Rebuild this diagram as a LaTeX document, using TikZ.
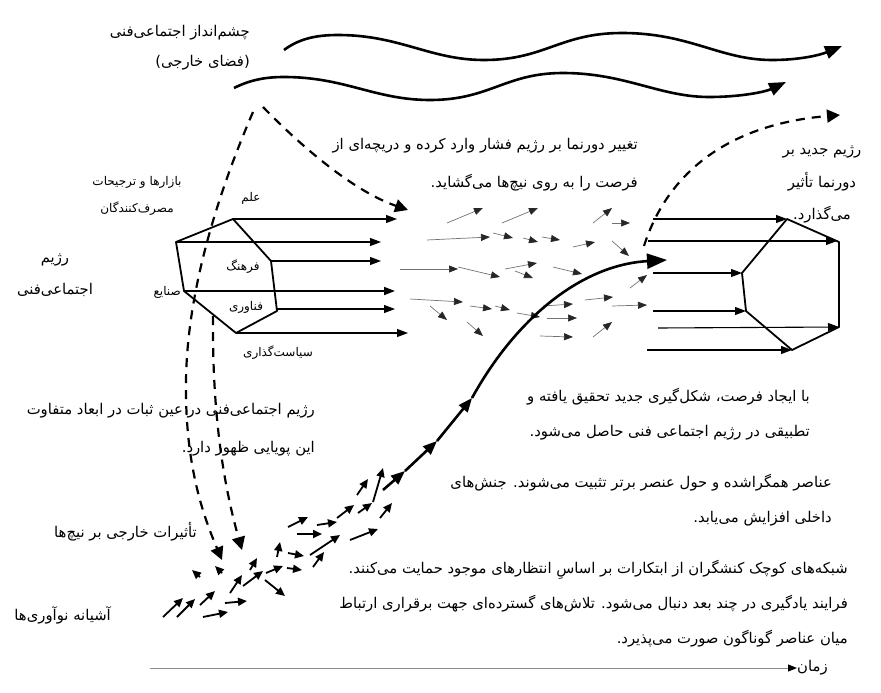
\documentclass[tikz,border=0pt]{standalone}
\usepackage{fontspec}
\usetikzlibrary{arrows.meta}
\newfontfamily\farsi[Script=Arabic]{DejaVu Sans}
\TeXXeTstate=1
\newcommand{\fa}[1]{\beginR #1\endR}
\tikzset{
  txt/.style={font=\farsi\fontsize{14.8}{35}\selectfont, inner sep=0pt, align=right},
  smalltxt/.style={font=\farsi\fontsize{12}{27}\selectfont, inner sep=0pt, align=center},
  wave/.style={line width=2.6pt, -{Triangle[length=17pt,width=13pt]}},
  dasharc/.style={line width=2.2pt, dash pattern=on 9pt off 7pt},
  dashtip/.style={-{Triangle[length=13pt,width=13pt]}},
  hexline/.style={line width=1.8pt, line join=round},
  regarrow/.style={line width=1.1pt, -{Triangle[length=11pt,width=8pt]}},
  flowarrow/.style={line width=0.7pt, black!55, -{Triangle[length=9pt,width=7pt,color=black!85]}},
  nichearrow/.style={line width=1.8pt, -{Triangle[length=9pt,width=8pt]}},
  mainarc/.style={line width=2.6pt, -{Triangle[length=14pt,width=11pt]}},
}

\begin{document}
\begin{tikzpicture}[x=1pt,y=-1pt]
\useasboundingbox (0,0) rectangle (881,693);

% landscape
\coordinate (w1a) at (284,50);
\coordinate (w1b) at (842,46);
\coordinate (w2a) at (234,88);
\coordinate (w2b) at (786,82);
\draw[wave] (w1a) .. controls (300,38) and (318,35) .. (338,35)
  .. controls (400,35) and (430,60) .. (484,60)
  .. controls (545,60) and (560,33) .. (622,33)
  .. controls (690,33) and (720,60) .. (772,60)
  .. controls (800,60) and (820,55) .. (w1b);
\draw[wave] (w2a) .. controls (250,80) and (265,77) .. (284,77)
  .. controls (345,77) and (375,100) .. (430,100)
  .. controls (490,100) and (505,73) .. (563,73)
  .. controls (625,73) and (660,97) .. (709,97)
  .. controls (740,97) and (765,92) .. (w2b);
\node[txt, anchor=north east] (land) at (250,25)
  {\fa{چشم^^^^200cانداز اجتماعی^^^^200cفنی}\\[-5pt]\fa{(فضای خارجی)}};

% regime
\coordinate (r1) at (233,219);
\coordinate (r2) at (176,242);
\coordinate (r3) at (184,291);
\coordinate (r4) at (236,333);
\coordinate (r5) at (277,311);
\coordinate (r6) at (271,261);
\draw[hexline] (r1) -- (r2) -- (r3) -- (r4) -- (r5) -- (r6) -- cycle;
\draw[regarrow] (r1) -- (397,219);
\draw[regarrow] (r2) -- (381,242);
\draw[regarrow] (r6) -- (381,261);
\draw[regarrow, line width=1.6pt] (r3) -- (395,291);
\draw[regarrow] (277,309) -- (395,309);
\draw[regarrow] (r4) -- (408,333);

\node[smalltxt] (market) at (137,196) {\fa{بازارها و ترجیحات}\\\fa{مصرف^^^^200cکنندگان}};
\node[smalltxt] (sci) at (251,198) {\fa{علم}};
\node[smalltxt] (cult) at (243,267) {\fa{فرهنگ}};
\node[smalltxt, anchor=east] (ind) at (181,292) {\fa{صنایع}};
\node[smalltxt] (tech) at (246,307) {\fa{فناوری}};
\node[smalltxt] (pol) at (278,353) {\fa{سیاست^^^^200cگذاری}};
\node[txt, align=center, font=\farsi\fontsize{14.8}{32}\selectfont] (reg) at (55,275)
  {\fa{رژیم}\\\fa{اجتماعی^^^^200cفنی}};

% dashed influences
\coordinate (d1) at (263,107);
\coordinate (d1e) at (408,210);
\coordinate (d2) at (253,112);
\coordinate (d2e) at (222,560);
\coordinate (d3) at (213,316);
\coordinate (d3e) at (242,550);
\coordinate (d4) at (644,246);
\coordinate (d4e) at (840,115);
\draw[dasharc, dashtip] (d1) .. controls (295,140) and (350,190) .. (d1e);
\draw[dasharc, dashtip] (d2) .. controls (215,200) and (185,300) .. (186,390)
  .. controls (186,470) and (205,520) .. (d2e);
\draw[dasharc, dashtip] (d3) .. controls (212,420) and (225,490) .. (d3e);
\draw[dasharc, dashtip] (d4) .. controls (665,180) and (720,125) .. (d4e);

% window of opportunity
\foreach \xa/\ya/\xb/\yb in {447/223/483/208, 502/223/538/208, 427/240/490/237,
  493/233/513/238, 523/238/538/242, 542/237/560/240, 573/247/595/242,
  593/223/612/208, 612/223/630/223, 612/241/629/256, 400/269/458/269,
  458/267/500/277, 505/269/537/263, 515/271/533/278, 553/267/582/274,
  410/299/463/302, 430/306/447/320, 470/306/492/309, 495/306/510/310,
  517/313/540/317, 467/322/483/336, 543/306/573/304, 547/318/577/318,
  585/300/613/297, 593/337/612/322, 540/336/573/337, 612/306/647/305,
  630/288/647/275}
  \draw[flowarrow] (\xa,\ya) -- (\xb,\yb);

% niches
\foreach \xa/\ya/\xb/\yb in {163/617/183/598, 177/617/195/599, 203/617/228/612,
  200/605/215/591, 225/603/247/601, 230/593/242/575, 200/577/192/570,
  222/573/215/566, 243/586/263/571, 250/570/257/558, 265/580/285/596,
  266/573/283/566, 277/557/280/542, 288/553/304/556, 287/568/302/570,
  313/567/324/552, 310/555/340/535, 288/527/308/517, 297/534/322/534,
  317/525/337/522, 337/518/354/505, 350/540/378/529, 358/513/372/503,
  357/495/368/479, 373/502/383/468, 380/518/392/503}
  \draw[nichearrow] (\xa,\ya) -- (\xb,\yb);

% breakthrough
\coordinate (m0) at (383,490);
\coordinate (m1) at (405,471);
\coordinate (m2) at (437,441);
\coordinate (m3) at (472,398);
\coordinate (m4) at (667,260);
\draw[mainarc] (m0) -- (m1);
\draw[mainarc] (m1) -- (m2);
\draw[mainarc] (m2) -- (m3);
\draw[mainarc, -{Triangle[length=20pt,width=15pt]}] (m3) .. controls (515,320) and (580,265) .. (m4);

% new regime
\coordinate (n1) at (787,219);
\coordinate (n2) at (839,242);
\coordinate (n3) at (839,327);
\coordinate (n4) at (792,350);
\coordinate (n5) at (746,311);
\coordinate (n6) at (742,273);
\draw[hexline] (n1) -- (n2) -- (n3) -- (n4) -- (n5) -- (n6) -- cycle;
\draw[regarrow] (653,219) -- (n1);
\draw[regarrow] (648,241) -- (837,241);
\draw[regarrow] (653,273) -- (n6);
\draw[regarrow] (653,311) -- (n5);
\draw[regarrow] (658,328) -- (n3);
\draw[regarrow] (647,350) -- (n4);

% texts
\node[txt, anchor=north east] (press) at (638,138)
  {\fa{تغییر دورنما بر رژیم فشار وارد کرده و دریچه^^^^200cای از}\\[3pt]\fa{فرصت را به روی نیچ^^^^200cها می^^^^200cگشاید.}};
\node[txt, align=center, anchor=north] (newreg) at (822,146)
  {\fa{رژیم جدید بر}\\[-2pt]\fa{دورنما تأثیر}\\[-3pt]\fa{می^^^^200cگذارد.}};
\node[txt, anchor=north east] (stable) at (315,403)
  {\fa{رژیم اجتماعی^^^^200cفنی در عین ثبات در ابعاد متفاوت}\\[3pt]\fa{این پویایی ظهور دارد.}};
\node[txt, anchor=east] (ext) at (197,532) {\fa{تأثیرات خارجی بر نیچ^^^^200cها}};
\node[txt, anchor=east] (nest) at (111,615) {\fa{آشیانه نوآوری^^^^200cها}};
\node[txt, anchor=north east] (window) at (810,388)
  {\fa{با ایجاد فرصت، شکل^^^^200cگیری جدید تحقیق یافته و}\\\fa{تطبیقی در رژیم اجتماعی فنی حاصل می^^^^200cشود.}};
\node[txt, anchor=north east] (align) at (832,474)
  {\fa{عناصر همگراشده و حول عنصر برتر تثبیت می^^^^200cشوند. جنش^^^^200cهای}\\\fa{داخلی افزایش می^^^^200cیابد.}};
\node[txt, anchor=north east] (niche) at (848,560)
  {\fa{شبکه^^^^200cهای کوچک کنشگران از ابتکارات بر اساسِ انتظارهای موجود حمایت می^^^^200cکنند.}\\\fa{فرایند یادگیری در چند بعد دنبال می^^^^200cشود. تلاش^^^^200cهای گسترده^^^^200cای جهت برقراری ارتباط}\\\fa{میان عناصر گوناگون صورت می^^^^200cپذیرد.}};

% time
\node[txt, anchor=west] (time) at (797,668) {\fa{زمان}};
\coordinate (t0) at (150,668);
\draw[black!45, line width=1pt, -{Triangle[length=9pt,width=7pt,color=black]}] (t0) -- (time.west);
\end{tikzpicture}
\end{document}
